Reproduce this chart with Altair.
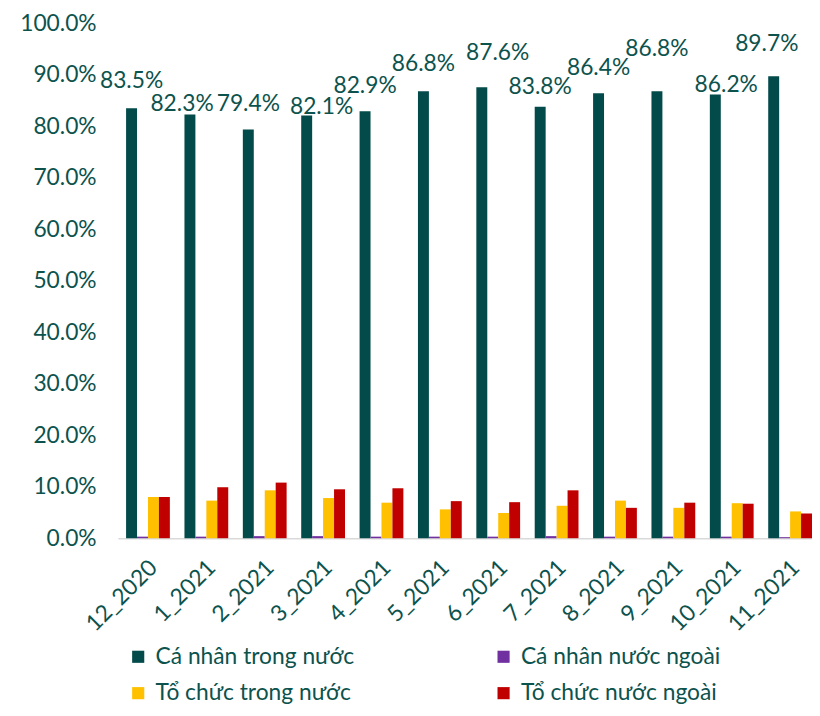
import altair as alt
import pandas as pd

months = ["12_2020", "1_2021", "2_2021", "3_2021", "4_2021", "5_2021",
          "6_2021", "7_2021", "8_2021", "9_2021", "10_2021", "11_2021"]
series = ["Cá nhân trong nước", "Cá nhân nước ngoài",
          "Tổ chức trong nước", "Tổ chức nước ngoài"]
ca_nhan_trong_nuoc = [83.5, 82.3, 79.4, 82.1, 82.9, 86.8, 87.6, 83.8, 86.4, 86.8, 86.2, 89.7]
ca_nhan_nuoc_ngoai = [0.3, 0.3, 0.4, 0.4, 0.3, 0.3, 0.3, 0.4, 0.3, 0.3, 0.3, 0.2]
to_chuc_trong_nuoc = [8.0, 7.3, 9.3, 7.8, 6.9, 5.6, 4.9, 6.3, 7.3, 5.9, 6.8, 5.2]
to_chuc_nuoc_ngoai = [8.0, 9.9, 10.8, 9.5, 9.7, 7.2, 7.0, 9.3, 5.9, 6.9, 6.7, 4.8]

colors = ["#024B4A", "#7030A0", "#FFC000", "#C00000"]
text_color = "#0C524D"
FONT = "Lato"

# label nudges (pixels) as placed in the original chart
label_dx = [0, -8, 0, 15, 0, 0, 16, 0, 0, 0, 11, -7]
label_dy = [-27, -11, -26, -9, -26, -28, -34, -20, -26, -43, -9, -33]

rows = []
for s, vals in zip(series, [ca_nhan_trong_nuoc, ca_nhan_nuoc_ngoai,
                            to_chuc_trong_nuoc, to_chuc_nuoc_ngoai]):
    for m, v in zip(months, vals):
        rows.append({"month": m, "series": s, "value": v})
df = pd.DataFrame(rows)

x_enc = alt.X("month:N", sort=months,
              scale=alt.Scale(paddingInner=0.25, paddingOuter=0.07, align=1),
              axis=alt.Axis(title=None, labelAngle=-45, labelFont=FONT,
                            labelFontSize=23, labelColor=text_color,
                            ticks=False, domainColor="#D9D9D9", domainWidth=1.5,
                            labelPadding=18, labelOffset=-2))
xoff_enc = alt.XOffset("series:N", sort=series,
                       scale=alt.Scale(domain=series, paddingInner=0, paddingOuter=0))
y_enc = alt.Y("value:Q", scale=alt.Scale(domain=[0, 100]),
              axis=alt.Axis(title=None, values=list(range(0, 101, 10)),
                            labelExpr="format(datum.value, '.1f') + '%'",
                            grid=False, domain=False, ticks=False,
                            labelFont=FONT, labelFontSize=23,
                            labelColor=text_color, labelPadding=22))

base = alt.Chart(df)

bars = base.mark_bar().encode(
    x=x_enc, xOffset=xoff_enc, y=y_enc,
    color=alt.Color("series:N", sort=series,
                    scale=alt.Scale(domain=series, range=colors),
                    legend=alt.Legend(title=None, orient="none", legendX=9,
                                      legendY=628, columns=2, columnPadding=139,
                                      rowPadding=13, symbolType="square",
                                      symbolSize=150, symbolStrokeWidth=0,
                                      values=[series[0], series[2], series[1], series[3]],
                                      labelFont=FONT, labelFontSize=23,
                                      labelColor=text_color, labelLimit=0,
                                      labelOffset=6)),
)

layers = [bars]
for m, dx, dy in zip(months, label_dx, label_dy):
    t = base.transform_filter(
        (alt.datum.month == m) & (alt.datum.series == series[0])
    ).transform_calculate(
        label="format(datum.value, '.1f') + '%'"
    ).mark_text(dx=dx, dy=dy, font=FONT, fontSize=23, color=text_color,
                baseline="middle", align="center").encode(
        x=x_enc, xOffset=xoff_enc, y=y_enc, text="label:N")
    layers.append(t)

chart = alt.layer(*layers).properties(
    width=701, height=520,
    autosize=alt.AutoSizeParams(type="none"),
    padding={"left": 111, "top": 12, "right": 0, "bottom": 168},
).configure_view(stroke=None)

chart.save("out.html", embed_options={"renderer": "svg", "actions": False})
